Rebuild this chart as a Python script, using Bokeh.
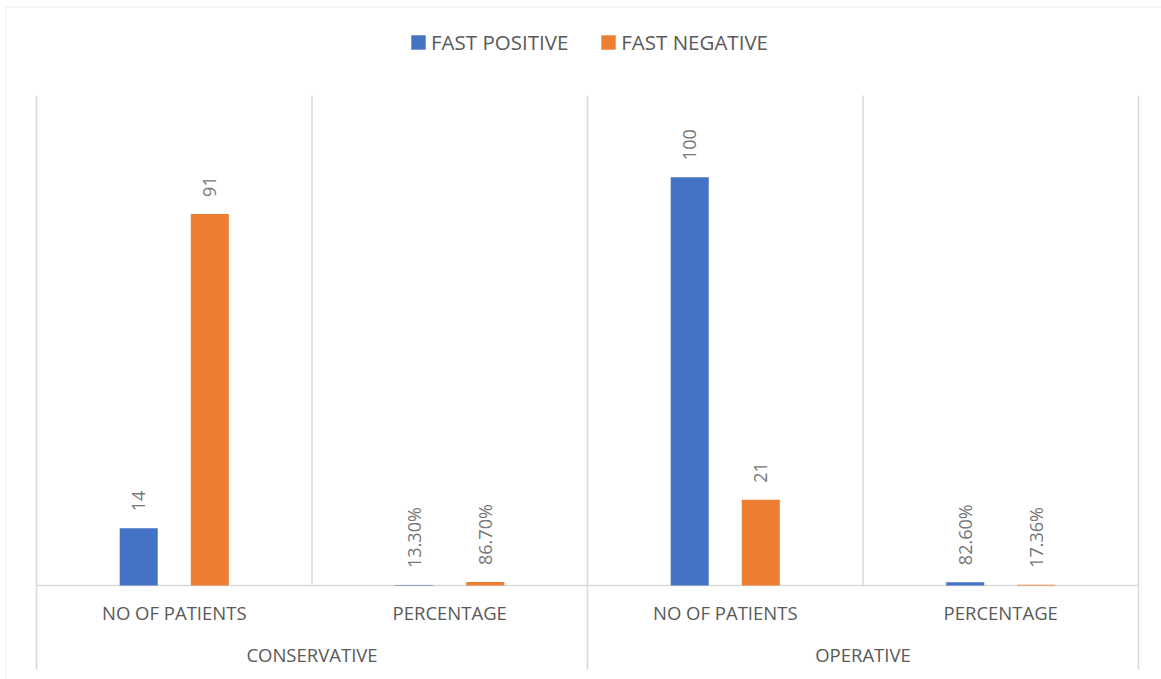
import math

from bokeh.core.properties import value
from bokeh.embed import file_html
from bokeh.models import (BoxAnnotation, ColumnDataSource, Legend, LegendItem,
                          Range1d)
from bokeh.plotting import figure
from bokeh.resources import INLINE

# ---- data -------------------------------------------------------------
treatments = ["CONSERVATIVE", "OPERATIVE"]
measures = ["NO OF PATIENTS", "PERCENTAGE"]
series_names = ["FAST POSITIVE", "FAST NEGATIVE"]
fast_positive = [14, 0.133, 100, 0.826]
fast_negative = [91, 0.867, 21, 0.1736]
series_colors = ["#4472C4", "#ED7D31"]

factors = [(t, m) for t in treatments for m in measures]


def fmt(v, measure):
    if measure == "PERCENTAGE":
        return f"{v * 100:.2f}%"
    return f"{v:g}"


# ---- styling constants ------------------------------------------------
FONT = "Open Sans"
TEXT = "#595959"
LABEL = "#767676"
RULE = "#d9d9d9"
BAR_W = 0.138
OFFSET = 0.129
W, H = 1161, 679
CAT_PX = 275.5                       # pixels per category slot
PX_PER_UNIT = 490 / 120              # vertical scale
X_LO = -36 / CAT_PX
X_HI = len(factors) + (W - 36 - len(factors) * CAT_PX) / CAT_PX
Y_TOP = 120                          # top of the plotting area
Y_HI = Y_TOP + 95 / PX_PER_UNIT
Y_LO = -(H - 585) / PX_PER_UNIT
Y_SEP = -84 / PX_PER_UNIT            # bottom of the group separators

# slot centres of each category and of each treatment group
cat_x = [i + 0.5 for i in range(len(factors))]
grp_x = [len(measures) * (g + 0.5) for g in range(len(treatments))]

p = figure(
    width=W, height=H,
    x_range=Range1d(X_LO, X_HI), y_range=Range1d(Y_LO, Y_HI),
    x_axis_location=None, y_axis_location=None,
    toolbar_location=None, output_backend="svg",
    min_border=0,
)
p.outline_line_color = None
p.grid.visible = False
p.background_fill_color = "white"
p.border_fill_color = "white"

# outer chart-area border
p.add_layout(BoxAnnotation(
    left=5.5, right=W + 40, top=6.5, bottom=H + 40,
    left_units="canvas", right_units="canvas",
    top_units="canvas", bottom_units="canvas",
    fill_alpha=0, line_color=RULE, line_width=1.5, level="underlay"))

# category separators: inner ones stop at the baseline, group ones run
# down through the label rows
n = len(factors)
inner = [i for i in range(1, n) if i % len(measures)]
outer = [i for i in range(0, n + 1) if i % len(measures) == 0]
p.segment(x0=inner, x1=inner, y0=[0] * len(inner), y1=[Y_TOP] * len(inner),
          line_color=RULE, line_width=1.5)
p.segment(x0=outer, x1=outer, y0=[Y_SEP] * len(outer), y1=[Y_TOP] * len(outer),
          line_color=RULE, line_width=1.5)
# baseline
p.segment(x0=[0], x1=[n], y0=[0], y1=[0], line_color=RULE, line_width=1.5)

# ---- bars and value labels -------------------------------------------
items = []
for name, vals, color, off in zip(series_names, [fast_positive, fast_negative],
                                  series_colors, [-OFFSET, OFFSET]):
    src = ColumnDataSource(dict(
        x=[c + off for c in cat_x],
        value=vals,
        label=[fmt(v, f[1]) for v, f in zip(vals, factors)],
    ))
    r = p.vbar(x="x", top="value", bottom=0, width=BAR_W, source=src,
               fill_color=color, line_color=None)
    p.text(x="x", y="value", text="label", source=src, angle=math.pi / 2,
           text_align="left", text_baseline="middle", y_offset=-17,
           text_font=value(FONT), text_font_size="18px", text_color=LABEL)
    items.append(LegendItem(label=name, renderers=[r]))

# ---- category labels (two levels) -------------------------------------
sub_src = ColumnDataSource(dict(x=cat_x, text=[f[1] for f in factors]))
p.text(x="x", y=-27 / PX_PER_UNIT, text="text", source=sub_src,
       text_align="center", text_baseline="middle",
       text_font=value(FONT), text_font_size="18.5px", text_color=TEXT)

grp_src = ColumnDataSource(dict(x=grp_x, text=treatments))
p.text(x="x", y=-68.5 / PX_PER_UNIT, text="text", source=grp_src,
       text_align="center", text_baseline="middle",
       text_font=value(FONT), text_font_size="18.5px", text_color=TEXT)

# ---- legend -----------------------------------------------------------
# area legend swatches are drawn at 80% of the glyph box
legend = Legend(
    items=items, orientation="horizontal", location=(409, H - 56),
    glyph_width=18, glyph_height=18, label_standoff=4, spacing=31,
    padding=0, margin=0, border_line_alpha=0, background_fill_alpha=0,
    label_text_font=FONT, label_text_font_size="20.5px",
    label_text_color=TEXT,
)
p.add_layout(legend, "center")

open("out.html", "w").write(file_html(p, INLINE))
